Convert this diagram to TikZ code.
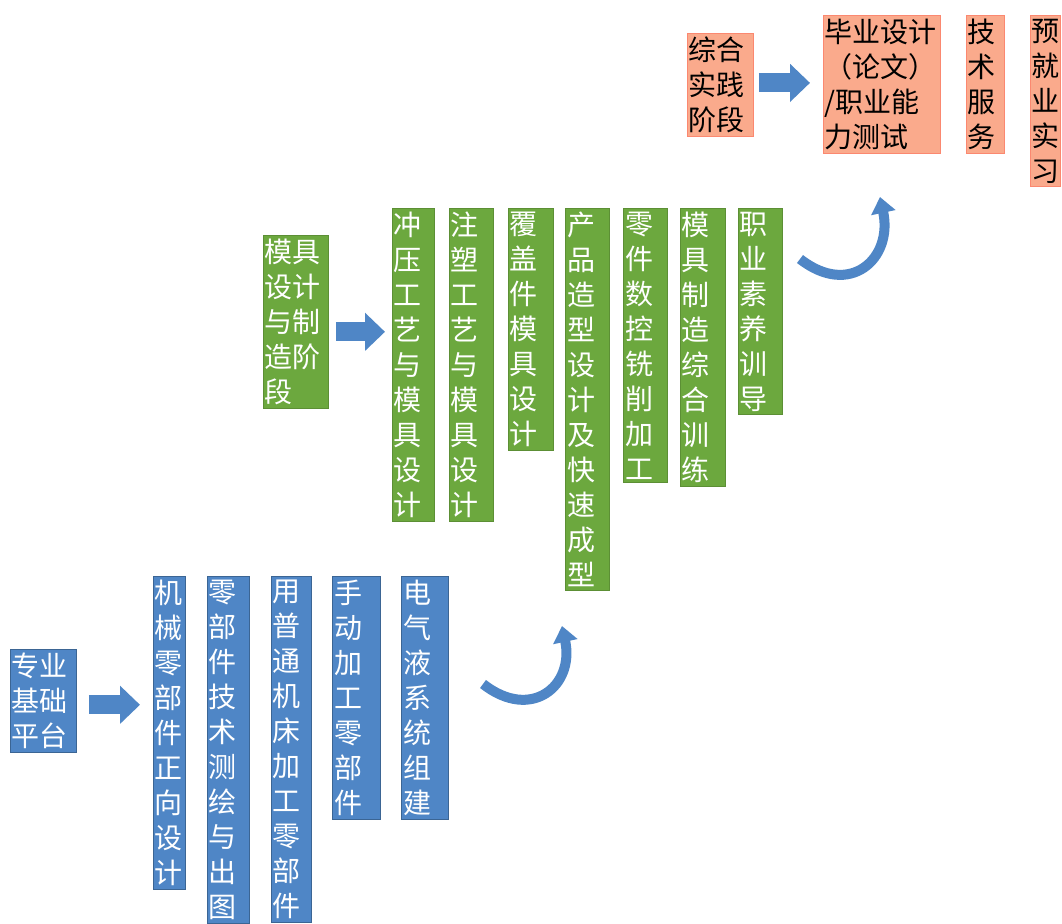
\documentclass[tikz,border=0pt]{standalone}
\usepackage{fontspec}
\setmainfont{Noto Sans CJK SC}
\usetikzlibrary{arrows.meta, positioning}
\definecolor{basecolor}{RGB}{79,134,198}
\definecolor{mouldcolor}{RGB}{108,168,62}
\definecolor{practcolor}{RGB}{250,170,140}

\begin{document}
\begin{tikzpicture}[
    x=1pt, y=-1pt,
    box/.style={rectangle, line width=0.8pt, inner xsep=1.5pt, inner ysep=3.5pt, align=left,
                anchor=north west, font=\fontsize{28}{35}\selectfont},
    basebox/.style={box, draw=basecolor!75!black, fill=basecolor, text=white, text width=#1},
    mouldbox/.style={box, draw=mouldcolor!85!black, fill=mouldcolor, text=white, text width=#1},
    practbox/.style={box, draw=practcolor!80!red, fill=practcolor, text=black, text width=#1},
    fatarrow/.style={line width=19pt, draw=basecolor, -{Triangle[length=20pt, width=37pt]}},
    turnarrow/.style={line width=10pt, draw=basecolor, -{Triangle[length=16pt, width=24pt]}}
]
    \useasboundingbox (0,0) rectangle (1062,923);
    \fill[white] (0,0) rectangle (1062,923);

    % base stage
    \node[basebox=63pt] (base) at (10,649) {专业\\基础\\平台};
    \node[basebox=29pt] (b1) at (153,576) {机\\械\\零\\部\\件\\正\\向\\设\\计};
    \node[basebox=39pt, right=21pt of b1.north east, anchor=north west] (b2) {零\\部\\件\\技\\术\\测\\绘\\与\\出\\图};
    \node[basebox=37pt, right=21pt of b2.north east, anchor=north west] (b3) {用\\普\\通\\机\\床\\加\\工\\零\\部\\件};
    \node[basebox=45pt, right=21pt of b3.north east, anchor=north west] (b4) {手\\动\\加\\工\\零\\部\\件};
    \node[basebox=44pt, right=20pt of b4.north east, anchor=north west] (b5) {电\\气\\液\\系\\统\\组\\建};

    % mould stage
    \node[mouldbox=62pt] (mould) at (263,235) {模具\\设计\\与制\\造阶\\段};
    \node[mouldbox=39pt] (g1) at (392,208) {冲\\压\\工\\艺\\与\\模\\具\\设\\计};
    \node[mouldbox=41pt, right=14pt of g1.north east, anchor=north west] (g2) {注\\塑\\工\\艺\\与\\模\\具\\设\\计};
    \node[mouldbox=42pt, right=14pt of g2.north east, anchor=north west] (g3) {覆\\盖\\件\\模\\具\\设\\计};
    \node[mouldbox=41pt, right=12pt of g3.north east, anchor=north west] (g4) {产\\品\\造\\型\\设\\计\\及\\快\\速\\成\\型};
    \node[mouldbox=41pt, right=13pt of g4.north east, anchor=north west] (g5) {零\\件\\数\\控\\铣\\削\\加\\工};
    \node[mouldbox=42pt, right=12pt of g5.north east, anchor=north west] (g6) {模\\具\\制\\造\\综\\合\\训\\练};
    \node[mouldbox=41pt, right=12pt of g6.north east, anchor=north west] (g7) {职\\业\\素\\养\\训\\导};

    % practice stage
    \node[practbox=63pt] (pract) at (687,33) {综合\\实践\\阶段};
    \node[practbox=114pt] (o1) at (823,15) {毕业设计\\（论文）\\/职业能\\力测试};
    \node[practbox=35pt, right=25pt of o1.north east, anchor=north west] (o2) {技\\术\\服\\务};
    \node[practbox=27pt, right=25pt of o2.north east, anchor=north west] (o3) {预\\就\\业\\实\\习};

    % stage arrows
    \draw[fatarrow, shorten <=12pt, shorten >=13pt] ([yshift=-4pt]base.east) -- ([yshift=-4pt]base.east -| b1.west);
    \draw[fatarrow, shorten <=7pt, shorten >=7pt] ([yshift=-10pt]mould.east) -- ([yshift=-10pt]mould.east -| g1.west);
    \draw[fatarrow, shorten <=5pt, shorten >=13pt] ([yshift=2pt]pract.east) -- ([yshift=2pt]pract.east -| o1.west);

    % turning arrows
    \coordinate (t1) at (483,684);
    \coordinate (h1) at (562,626);
    \coordinate (t2) at (800,259);
    \coordinate (h2) at (880,197);
    \draw[turnarrow] (t1) to[out=-38, in=-78, looseness=1.6] (h1);
    \draw[turnarrow] (t2) to[out=-38, in=-78, looseness=1.6] (h2);
\end{tikzpicture}
\end{document}
